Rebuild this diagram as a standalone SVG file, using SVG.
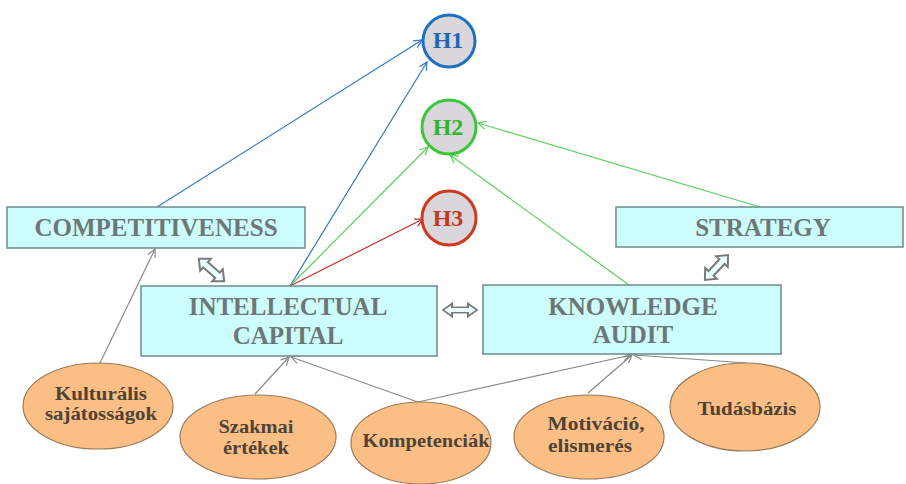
<svg xmlns="http://www.w3.org/2000/svg" width="906" height="484" viewBox="0 0 906 484">
<style>
.box{fill:#ccfcfc;stroke:#6f8a8a;stroke-width:1.5}
.bt{font-family:"Liberation Serif",serif;font-weight:bold;font-size:25px;fill:#6d7777;text-anchor:middle}
.ell{fill:#fbbf86;stroke:#9a7b5a;stroke-width:1.2}
.et{font-family:"Liberation Serif",serif;font-weight:bold;font-size:18px;fill:#4e4336;text-anchor:middle}
.hc{fill:#d9d6dc;stroke-width:3}
.ht{font-family:"Liberation Serif",serif;font-weight:bold;font-size:24px;text-anchor:middle}
.c{fill:none;stroke-width:1.2}
.dbl{fill:#eaffff;stroke:#7a7a7a;stroke-width:2;stroke-linejoin:miter}
</style>
<defs>
<marker id="mb" markerUnits="userSpaceOnUse" markerWidth="12" markerHeight="12" viewBox="-10 -6 12 12" refX="0" refY="0" orient="auto"><path d="M-8,-4 L0,0 L-8,4" fill="none" stroke="#2f78c2" stroke-width="1.2"/></marker>
<marker id="mg" markerUnits="userSpaceOnUse" markerWidth="12" markerHeight="12" viewBox="-10 -6 12 12" refX="0" refY="0" orient="auto"><path d="M-8,-4 L0,0 L-8,4" fill="none" stroke="#5ccf5c" stroke-width="1.2"/></marker>
<marker id="mr" markerUnits="userSpaceOnUse" markerWidth="12" markerHeight="12" viewBox="-10 -6 12 12" refX="0" refY="0" orient="auto"><path d="M-8,-4 L0,0 L-8,4" fill="none" stroke="#c0302a" stroke-width="1.2"/></marker>
<marker id="mk" markerUnits="userSpaceOnUse" markerWidth="12" markerHeight="12" viewBox="-10 -6 12 12" refX="0" refY="0" orient="auto"><path d="M-8,-4 L0,0 L-8,4" fill="none" stroke="#8a8a8a" stroke-width="1.2"/></marker>
<path id="darrow" d="M-17,0 L-8,-8 L-8,-3.5 L8,-3.5 L8,-8 L17,0 L8,8 L8,3.5 L-8,3.5 L-8,8 Z"/>
</defs>

<g id="connectors">
<line class="c" stroke="#2f78c2" x1="157" y1="207" x2="422" y2="40" marker-end="url(#mb)"/>
<line class="c" stroke="#2f78c2" x1="290" y1="286" x2="427" y2="62" marker-end="url(#mb)"/>
<line class="c" stroke="#5ccf5c" x1="290" y1="286" x2="428" y2="147" marker-end="url(#mg)"/>
<line class="c" stroke="#c0302a" x1="290" y1="286" x2="423" y2="219" marker-end="url(#mr)"/>
<line class="c" stroke="#5ccf5c" x1="629" y1="285" x2="450" y2="155" marker-end="url(#mg)"/>
<line class="c" stroke="#5ccf5c" x1="760" y1="207" x2="478" y2="123" marker-end="url(#mg)"/>
<line class="c" stroke="#8a8a8a" x1="100" y1="363" x2="155" y2="249" marker-end="url(#mk)"/>
<line class="c" stroke="#8a8a8a" x1="255" y1="394" x2="289" y2="357" marker-end="url(#mk)"/>
<line class="c" stroke="#8a8a8a" x1="418" y1="402" x2="291" y2="357" marker-end="url(#mk)"/>
<line class="c" stroke="#8a8a8a" x1="418" y1="402" x2="631" y2="355" marker-end="url(#mk)"/>
<line class="c" stroke="#8a8a8a" x1="588" y1="393" x2="632" y2="355" marker-end="url(#mk)"/>
<line class="c" stroke="#8a8a8a" x1="747" y1="363" x2="634" y2="355" marker-end="url(#mk)"/>
<use href="#darrow" class="dbl" transform="translate(211.5,270) rotate(41.6)"/>
<use href="#darrow" class="dbl" transform="translate(716.5,267.5) rotate(-47)"/>
<use href="#darrow" class="dbl" transform="translate(460,310) scale(1,0.8)"/>
</g>

<g id="H1">
<circle class="hc" cx="449" cy="41" r="26" stroke="#1e70c0"/>
<text class="ht" x="448" y="48" fill="#1f66b5">H1</text>
</g>
<g id="H2">
<circle class="hc" cx="449" cy="127" r="27" stroke="#3cc63c"/>
<text class="ht" x="448" y="135" fill="#2fb52f">H2</text>
</g>
<g id="H3">
<circle class="hc" cx="449" cy="218" r="27" stroke="#cf3a1e"/>
<text class="ht" x="448" y="226" fill="#c4391b">H3</text>
</g>

<g id="competitiveness">
<rect class="box" x="7" y="207" width="298" height="41"/>
<text class="bt" x="156" y="236">COMPETITIVENESS</text>
</g>
<g id="strategy">
<rect class="box" x="616" y="207" width="287" height="40"/>
<text class="bt" x="763" y="236">STRATEGY</text>
</g>
<g id="intellectual-capital">
<rect class="box" x="141" y="286" width="296" height="70"/>
<text class="bt" x="288" y="315">INTELLECTUAL</text>
<text class="bt" x="288" y="344">CAPITAL</text>
</g>
<g id="knowledge-audit">
<rect class="box" x="483" y="285" width="298" height="69"/>
<text class="bt" x="633" y="315">KNOWLEDGE</text>
<text class="bt" x="633" y="343">AUDIT</text>
</g>

<g id="kulturalis">
<ellipse class="ell" cx="98" cy="406" rx="75" ry="43"/>
<text class="et" x="101" y="400" textLength="92" lengthAdjust="spacingAndGlyphs">Kulturális</text>
<text class="et" x="101" y="420" textLength="112" lengthAdjust="spacingAndGlyphs">sajátosságok</text>
</g>
<g id="szakmai">
<ellipse class="ell" cx="258" cy="437" rx="78" ry="42"/>
<text class="et" x="256" y="433" textLength="75" lengthAdjust="spacingAndGlyphs">Szakmai</text>
<text class="et" x="256" y="454" textLength="66" lengthAdjust="spacingAndGlyphs">értékek</text>
</g>
<g id="kompetenciak">
<ellipse class="ell" cx="421" cy="443" rx="70" ry="41"/>
<text class="et" x="426" y="447" textLength="127" lengthAdjust="spacingAndGlyphs">Kompetenciák</text>
</g>
<g id="motivacio">
<ellipse class="ell" cx="589" cy="437" rx="75" ry="42"/>
<text class="et" x="596" y="430" textLength="97" lengthAdjust="spacingAndGlyphs">Motiváció,</text>
<text class="et" x="590" y="452" textLength="84" lengthAdjust="spacingAndGlyphs">elismerés</text>
</g>
<g id="tudasbazis">
<ellipse class="ell" cx="745" cy="407" rx="75" ry="44"/>
<text class="et" x="747" y="415" textLength="99" lengthAdjust="spacingAndGlyphs">Tudásbázis</text>
</g>
</svg>
